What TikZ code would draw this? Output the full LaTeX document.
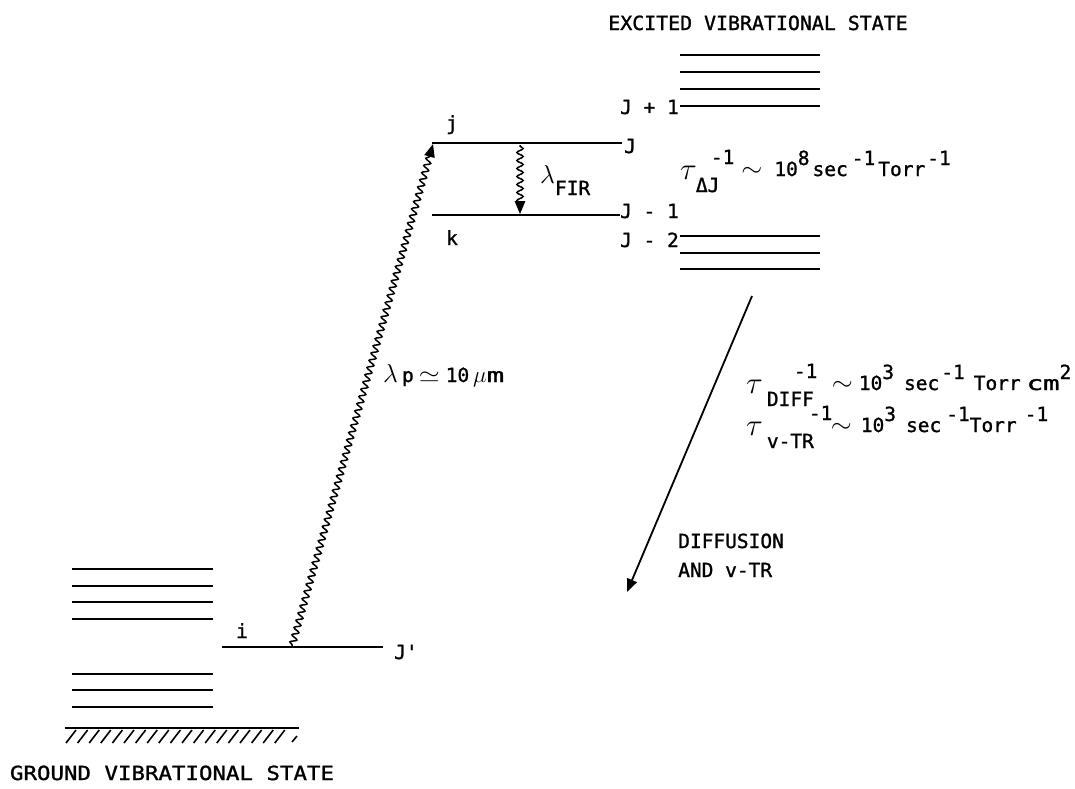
\documentclass[tikz,border=0pt]{standalone}
\usepackage{fontspec}
\setmainfont{DejaVu Sans Mono}[FakeBold=1.2]
\usetikzlibrary{decorations.pathmorphing,arrows.meta}
\newcommand\up[1]{\raisebox{11pt}{#1}}
\newcommand\mytau{\raisebox{-3pt}{\scalebox{1.5}{$\tau$}}}
% \tsq{sub}{sup}{sup offset}{gap after tau}
\newcommand\tsq[4]{\mytau\hspace{#4}\rlap{\hspace{#3}\raisebox{12pt}{#2}}\raisebox{-16pt}{#1}}
\newcommand\wsim{\scalebox{1.3}[1.2]{$\sim$}}
\begin{document}
\begin{tikzpicture}[x=1pt,y=-1pt,
  lev/.style={line width=2.6pt},
  lab/.style={font=\fontsize{19.5}{21}\selectfont, inner sep=0pt},
  wavy/.style={decorate, decoration={snake,amplitude=3.1pt,segment length=7.5pt,pre length=1pt,post length=11pt}, line width=1.5pt},
  tip/.style={-{Triangle[length=13pt,width=10.5pt]}}
]
\useasboundingbox (0,0) rectangle (1075,788);

% excited state manifold
\foreach \y in {55,72,89,106} \draw[lev] (680,\y) -- (820,\y);
\foreach \y in {236,253,269} \draw[lev] (680,\y) -- (820,\y);
\draw[lev] (432,143) coordinate (jl) -- (622,143) coordinate (jr);
\draw[lev] (432,215) coordinate (kl) -- (620,215) coordinate (kr);

% ground state manifold
\foreach \y in {569,586,602,619,674,690,707} \draw[lev] (72,\y) -- (213,\y);
\draw[lev] (222,647) coordinate (il) -- (383,647) coordinate (ir);
\draw[line width=2.2pt] (65,728) -- (299,728);
\foreach \x in {76,87.6,...,290} \draw[line width=1.6pt] (\x,730) -- (\x-10,743);
\draw[line width=1.6pt] (297,736) -- (292,742);

% labels
\node[lab,anchor=base] (t1) at (758,30) {\scalebox{1.02}[1]{EXCITED VIBRATIONAL STATE}};
\node[lab,anchor=base] (t2) at (172,780) {\scalebox{1.15}[1]{GROUND VIBRATIONAL STATE}};
\node[lab,anchor=base east] (lJp1) at (679,114) {J + 1};
\node[lab,anchor=base west] (lJ) at (624,153) {J};
\node[lab,anchor=base east] (lJm1) at (679,218) {J - 1};
\node[lab,anchor=base east] (lJm2) at (679,247) {J - 2};
\node[lab,anchor=base] (lj) at (452,130) {j};
\node[lab,anchor=base] (lk) at (452,245) {k};
\node[lab,anchor=base] (li) at (242,638) {i};
\node[lab,anchor=base west] (lJpr) at (394,659) {J\textquotesingle};

\node[lab,anchor=base west] (fir) at (540,183) {\scalebox{1.25}{$\lambda$}\raisebox{-12pt}{FIR}};
\node[lab,anchor=base west] (lp) at (383,382) {\scalebox{1.25}{$\lambda$}\hspace{4pt}p\hspace{5pt}\scalebox{1.3}[1.1]{$\simeq$}\hspace{6pt}10\hspace{4pt}\scalebox{1.1}{$\mu$}\scalebox{1.5}[1]{m}};

\node[lab,anchor=base west] (tdj) at (680,176) {\tsq{ΔJ}{-1}{15pt}{-1pt}\hspace{22pt}\wsim\hspace{12pt}10\up{8}\hspace{3pt}sec\hspace{4pt}\up{-1}\hspace{3pt}Torr\hspace{2pt}\up{-1}};
\node[lab,anchor=base west] (tdf) at (746,390) {\tsq{DIFF}{-1}{27pt}{4pt}\hspace{18pt}\wsim\hspace{6pt}10\up{3}\hspace{10pt}sec\hspace{2pt}\up{-1}\hspace{9pt}Torr\hspace{6pt}\scalebox{1.4}[1]{cm}\up{2}};
\node[lab,anchor=base west] (tvt) at (746,432) {\tsq{v-TR}{-1}{42pt}{4pt}\hspace{17pt}\wsim\hspace{9pt}10\up{3}\hspace{10pt}sec\hspace{5pt}\up{-1}Torr\hspace{8pt}\up{-1}};

\node[lab,anchor=base west] (dif) at (678,548) {DIFFUSION};
\node[lab,anchor=base west] (and) at (678,577) {AND v-TR};

% transitions
\coordinate (pa) at (292,646);
\coordinate (pb) at (433,144);
\draw[wavy,tip] (pa) -- (pb);
\coordinate (fa) at (520,145);
\coordinate (fb) at (520,214);
\draw[wavy,tip,decoration={segment length=8pt}] (fa) -- (fb);
\coordinate (da) at (752,296);
\coordinate (db) at (627,592);
\draw[line width=1.8pt,tip] (da) -- (db);
\end{tikzpicture}
\end{document}
